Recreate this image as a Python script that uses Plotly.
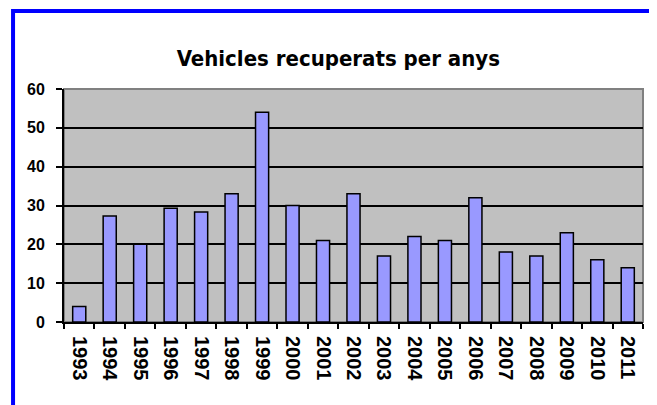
import plotly.graph_objects as go

years = ["1993", "1994", "1995", "1996", "1997", "1998", "1999", "2000", "2001", "2002",
         "2003", "2004", "2005", "2006", "2007", "2008", "2009", "2010", "2011"]
values = [4, 27.3, 20, 29.3, 28.3, 33, 54, 30, 21, 33, 17, 22, 21, 32, 18, 17, 23, 16, 14]

title_text = "Vehicles recuperats per anys"

fig = go.Figure()
fig.add_trace(go.Bar(
    x=years, y=values,
    marker=dict(color="#9999FF", line=dict(color="black", width=1.5)),
    width=0.43,
))

yfont = dict(family="Liberation Sans, Arial", size=16, color="black", weight="bold")
xfont = dict(family="Liberation Sans, Arial", size=20, color="black", weight="bold")

fig.update_layout(
    width=649, height=397,
    margin=dict(l=56, r=14, t=81, b=83),
    paper_bgcolor="white",
    plot_bgcolor="#C0C0C0",
    showlegend=False,
    title=dict(text=title_text, x=0.509, xanchor="center", y=0.874, yanchor="middle",
               font=dict(family="DejaVu Sans Condensed", size=22, color="black", weight="bold")),
    xaxis=dict(type="category", tickangle=90, tickfont=xfont, ticklabelstandoff=8,
               showline=True, linecolor="black", linewidth=2,
               ticks="outside", tickson="boundaries", ticklen=5, tickwidth=2, tickcolor="black",
               showgrid=False, range=[-0.5, 18.5]),
    yaxis=dict(range=[0, 60], dtick=10, tickfont=yfont, ticklabelstandoff=8,
               showline=True, linecolor="black", linewidth=2,
               ticks="outside", ticklen=6, tickwidth=2, tickcolor="black",
               showgrid=True, gridcolor="black", gridwidth=2, zeroline=False),
    shapes=[
        dict(type="rect", xref="paper", yref="paper", x0=0, x1=1, y0=0, y1=1,
             line=dict(color="#808080", width=2), layer="below"),
        dict(type="rect", xref="paper", yref="paper", x0=-0.088, x1=1.06, y0=-0.42, y1=1.335,
             line=dict(color="#0000FF", width=4), fillcolor="rgba(0,0,0,0)", layer="above"),
    ],
)

fig.write_html("out.html")
